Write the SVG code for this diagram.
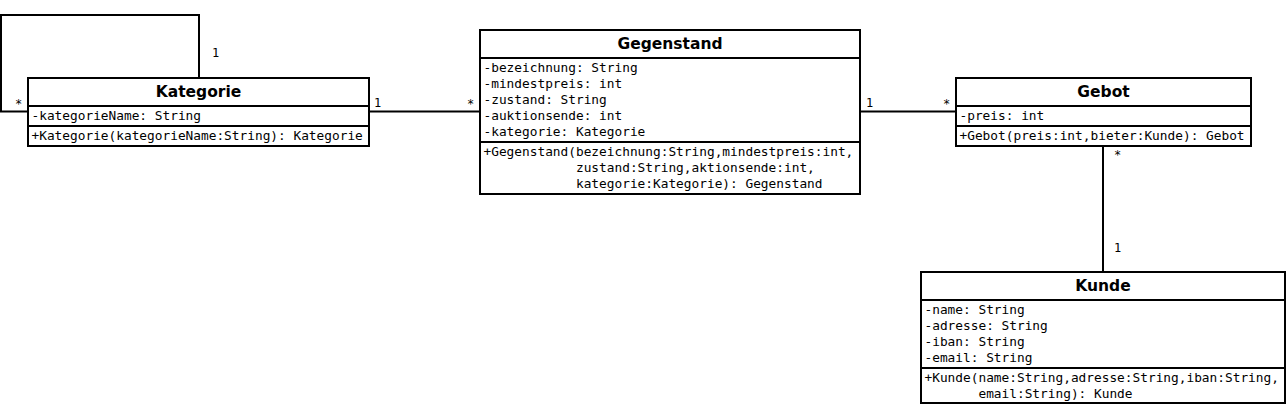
<svg xmlns="http://www.w3.org/2000/svg" width="1288" height="407" viewBox="0 0 1288 407">
<style>
.box{fill:#fff;stroke:#000;stroke-width:2}
.sep{stroke:#000;stroke-width:2}
.title{font-family:"DejaVu Sans",sans-serif;font-weight:bold;font-size:15.5px;text-anchor:middle;fill:#000}
.m{font-family:"DejaVu Sans Mono",monospace;font-size:12.8px;fill:#000;white-space:pre}
.mult{font-family:"DejaVu Sans Mono",monospace;font-size:12px;fill:#000}
.edge{fill:none;stroke:#000;stroke-width:2}
</style>
<rect width="1288" height="407" fill="#fff"/>
<g id="connectors">
<path class="edge" d="M28,111.5 H1 V15 H199 V78"/>
<path class="edge" d="M369,111.5 H480"/>
<path class="edge" d="M860,111.5 H956"/>
<path class="edge" d="M1103,146 V272"/>
<text class="mult" x="212" y="57">1</text>
<text class="mult" x="15" y="108">*</text>
<text class="mult" x="374" y="107">1</text>
<text class="mult" x="467" y="108">*</text>
<text class="mult" x="866" y="107">1</text>
<text class="mult" x="943" y="108">*</text>
<text class="mult" x="1114" y="159">*</text>
<text class="mult" x="1114" y="252">1</text>
</g>
<g id="Kategorie">
<rect class="box" x="28" y="78" width="341" height="68"/>
<line class="sep" x1="28" y1="106" x2="369" y2="106"/>
<line class="sep" x1="28" y1="126" x2="369" y2="126"/>
<text class="title" x="198.5" y="97">Kategorie</text>
<text class="m" x="31.5" y="120">-kategorieName: String</text>
<text class="m" x="31.5" y="140">+Kategorie(kategorieName:String): Kategorie</text>
</g>
<g id="Gegenstand">
<rect class="box" x="480" y="30" width="380" height="164"/>
<line class="sep" x1="480" y1="58" x2="860" y2="58"/>
<line class="sep" x1="480" y1="142" x2="860" y2="142"/>
<text class="title" x="670" y="49">Gegenstand</text>
<text class="m" x="483.5" y="72">-bezeichnung: String</text>
<text class="m" x="483.5" y="88">-mindestpreis: int</text>
<text class="m" x="483.5" y="104">-zustand: String</text>
<text class="m" x="483.5" y="120">-auktionsende: int</text>
<text class="m" x="483.5" y="136">-kategorie: Kategorie</text>
<text class="m" x="483.5" y="156">+Gegenstand(bezeichnung:String,mindestpreis:int,</text>
<text class="m" x="483.5" y="172">            zustand:String,aktionsende:int,</text>
<text class="m" x="483.5" y="188">            kategorie:Kategorie): Gegenstand</text>
</g>
<g id="Gebot">
<rect class="box" x="956" y="78" width="295" height="68"/>
<line class="sep" x1="956" y1="106" x2="1251" y2="106"/>
<line class="sep" x1="956" y1="126" x2="1251" y2="126"/>
<text class="title" x="1103.5" y="97">Gebot</text>
<text class="m" x="959.5" y="120">-preis: int</text>
<text class="m" x="959.5" y="140">+Gebot(preis:int,bieter:Kunde): Gebot</text>
</g>
<g id="Kunde">
<rect class="box" x="921" y="272" width="364" height="131"/>
<line class="sep" x1="921" y1="300" x2="1285" y2="300"/>
<line class="sep" x1="921" y1="368" x2="1285" y2="368"/>
<text class="title" x="1103" y="291">Kunde</text>
<text class="m" x="924.5" y="314">-name: String</text>
<text class="m" x="924.5" y="330">-adresse: String</text>
<text class="m" x="924.5" y="346">-iban: String</text>
<text class="m" x="924.5" y="362">-email: String</text>
<text class="m" x="924.5" y="382">+Kunde(name:String,adresse:String,iban:String,</text>
<text class="m" x="924.5" y="398">       email:String): Kunde</text>
</g>
</svg>
